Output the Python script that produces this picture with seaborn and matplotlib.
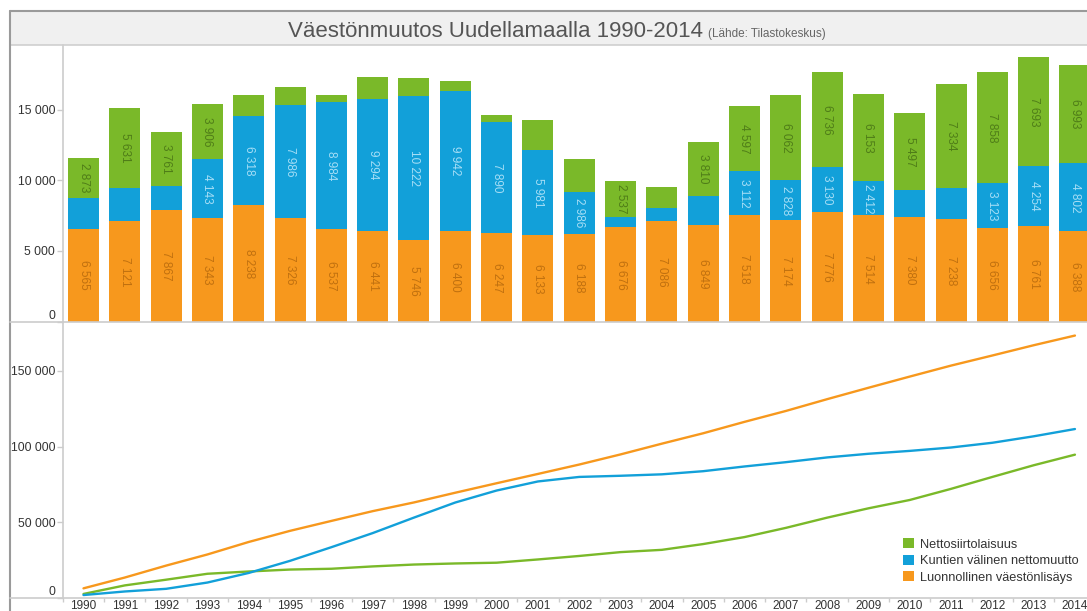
import numpy as np
import pandas as pd
import matplotlib
matplotlib.use("Agg")
import matplotlib.pyplot as plt
import seaborn as sns
from matplotlib.patches import Rectangle, Patch
from matplotlib.lines import Line2D

# ---- data ----
years = list(range(1990, 2015))
natural = [6565, 7121, 7867, 7343, 8238, 7326, 6537, 6441, 5746, 6400, 6247, 6133, 6188,
           6676, 7086, 6849, 7518, 7174, 7776, 7514, 7380, 7238, 6656, 6761, 6388]
internal = [2150, 2350, 1750, 4143, 6318, 7986, 8984, 9294, 10222, 9942, 7890, 5981, 2986,
            760, 950, 2065, 3112, 2828, 3130, 2412, 1900, 2230, 3123, 4254, 4802]
immigration = [2873, 5631, 3761, 3906, 1500, 1280, 520, 1545, 1235, 710, 500, 2140, 2300,
               2537, 1500, 3810, 4597, 6062, 6736, 6153, 5497, 7334, 7858, 7693, 6993]
series_names = ["Nettosiirtolaisuus", "Kuntien välinen nettomuutto", "Luonnollinen väestönlisäys"]
bar_yticks = [0, 5000, 10000, 15000]
line_yticks = [0, 50000, 100000, 150000]
title_main = "Väestönmuutos Uudellamaalla 1990-2014"
title_source = "(Lähde: Tilastokeskus)"

GREEN = "#7ab929"
BLUE = "#12a0d9"
ORANGE = "#f7981d"
TXT_GREEN = "#4f7d18"
TXT_BLUE = "#a6def6"
TXT_ORANGE = "#c0700f"

sns.set_theme(style="white")
plt.rcParams["font.family"] = ["Liberation Sans", "DejaVu Sans"]

W, H = 1087, 611
fig = plt.figure(figsize=(W / 100, H / 100), dpi=100)
fig.patch.set_facecolor("white")


def fx(px):
    return px / W


def fy(py):
    return 1 - py / H


slot = 41.31
left_px = 62.85
ax_w = 25 * slot / W
y0_top, y_mid, y_bot = 44.5, 321.7, 598.3

# frame / title bar
fig.add_artist(Rectangle((fx(10), fy(y0_top)), 1 - fx(10), (y0_top - 11) / H,
                         transform=fig.transFigure, facecolor="#f0f0f0", edgecolor="none", zorder=0))
fig.add_artist(Line2D([fx(10), 1], [fy(11), fy(11)], transform=fig.transFigure, color="#9a9a9a", lw=1.5))
fig.add_artist(Line2D([fx(10), 1], [fy(y0_top), fy(y0_top)], transform=fig.transFigure, color="#cfcfcf", lw=1.2))
fig.add_artist(Line2D([fx(10), fx(10)], [fy(11), 0], transform=fig.transFigure, color="#9a9a9a", lw=1.5))
fig.add_artist(Line2D([fx(10), 1], [fy(y_mid), fy(y_mid)], transform=fig.transFigure, color="#cccccc", lw=1.2, zorder=5))
fig.add_artist(Line2D([fx(10), 1], [fy(y_bot), fy(y_bot)], transform=fig.transFigure, color="#cccccc", lw=1.2, zorder=5))

fig.text(fx(703), fy(37), title_main, ha="right", va="baseline", fontsize=16, color="#555555")
fig.text(fx(708), fy(37), title_source, ha="left", va="baseline", fontsize=8.5, color="#666666")

ax1 = fig.add_axes([fx(left_px), fy(y_mid), ax_w, (y_mid - y0_top) / H])
ax2 = fig.add_axes([fx(left_px), fy(y_bot), ax_w, (y_bot - y_mid) / H])
for ax in (ax1, ax2):
    ax.set_facecolor("none")

# ---- stacked bars ----
df = pd.DataFrame({"year": [str(y) for y in years], "natural": natural,
                   "internal": internal, "immigration": immigration})
df["top_internal"] = df["natural"] + df["internal"]
df["top_all"] = df["top_internal"] + df["immigration"]

for col, c in (("top_all", GREEN), ("top_internal", BLUE), ("natural", ORANGE)):
    sns.barplot(data=df, x="year", y=col, color=c, width=0.75, saturation=1,
                errorbar=None, linewidth=0, ax=ax1)


def fmt(v):
    return f"{v:,}".replace(",", " ")


for i, r in df.iterrows():
    segs = [(r["natural"], 0, TXT_ORANGE), (r["internal"], r["natural"], TXT_BLUE),
            (r["immigration"], r["top_internal"], TXT_GREEN)]
    for v, base, tc in segs:
        if v >= 2400:
            ax1.text(i, base + v / 2, fmt(v), rotation=-90, ha="center", va="center",
                     fontsize=8.5, color=tc)

ax1.set_xlim(-0.5, 24.5)
ax1.set_ylim(0, 19600)
ax1.set_yticks(bar_yticks)
ax1.set_yticklabels([fmt(v) for v in bar_yticks])
ax1.set_xlabel("")
ax1.set_ylabel("")
ax1.tick_params(axis="x", length=0, labelbottom=False)

# ---- cumulative lines ----
cum = pd.DataFrame({
    "Vuosi": years * 3,
    "Arvo": np.concatenate([np.cumsum(immigration), np.cumsum(internal), np.cumsum(natural)]),
    "Sarja": np.repeat(series_names, len(years)),
})
sns.lineplot(data=cum, x="Vuosi", y="Arvo", hue="Sarja", hue_order=series_names,
             palette=[GREEN, BLUE, ORANGE], linewidth=1.7, legend=False, ax=ax2)
ax2.set_xlim(years[0] - 0.5, years[-1] + 0.5)
ax2.set_ylim(0, 182300)
ax2.set_yticks(line_yticks)
ax2.set_yticklabels([fmt(v) for v in line_yticks])
ax2.set_xticks(years)
ax2.set_xticklabels([str(y) for y in years])
ax2.set_xticks(np.arange(years[0] - 0.5, years[-1] + 1, 1.0), minor=True)
ax2.set_xlabel("")
ax2.set_ylabel("")
ax2.tick_params(axis="x", which="major", length=0, pad=1.0, labelsize=8.5, labelcolor="#333333")
ax2.tick_params(axis="x", which="minor", length=3, color="#cccccc", width=1, bottom=True)

for ax in (ax1, ax2):
    for s in ("top", "right", "bottom"):
        ax.spines[s].set_visible(False)
    ax.spines["left"].set_color("#cccccc")
    ax.spines["left"].set_linewidth(1.2)
    ax.tick_params(axis="y", length=4, color="#cccccc", width=1, pad=1.5, labelsize=8.8,
                   labelcolor="#333333", left=True)
    ax.get_yticklabels()[0].set_verticalalignment("bottom")

handles = [Patch(facecolor=c, edgecolor="none") for c in (GREEN, BLUE, ORANGE)]
fig.legend(handles, series_names, loc="upper left", bbox_to_anchor=(fx(903), fy(538)),
           frameon=False, fontsize=9.2, handlelength=0.85, handleheight=0.85,
           handletextpad=0.45, labelspacing=0.32, borderpad=0, borderaxespad=0,
           labelcolor="#333333")

fig.savefig("out.png", dpi=100, facecolor="white")
